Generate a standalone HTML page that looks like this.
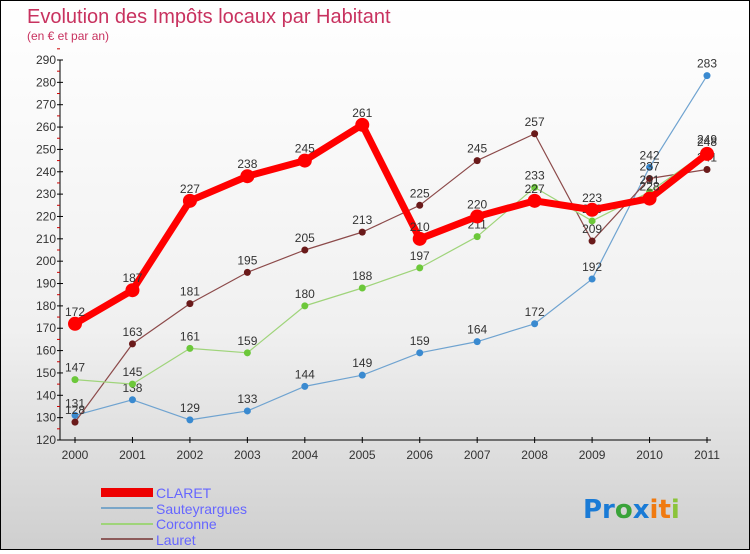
<!DOCTYPE html>
<html><head><meta charset="utf-8"><style>
html,body{margin:0;padding:0}
body{width:750px;height:550px;overflow:hidden;font-family:"Liberation Sans",sans-serif}
#wrap{position:relative;width:748px;height:548px;border:1px solid #000;background:linear-gradient(#fff 0%,#f0f0f0 60%,#cfcfcf 100%)}
</style></head><body>
<div id="wrap">
<svg id="svg" width="748" height="548" xmlns="http://www.w3.org/2000/svg">
<text x="26" y="22" font-size="20" fill="#c8325f">Evolution des Impôts locaux par Habitant</text>
<text x="26" y="39" font-size="12" fill="#c8325f">(en € et par an)</text>
<g id="axes"></g><g id="series"></g>
<g>
<rect x="100" y="487" width="52" height="9" fill="#e00"/>
<text x="155" y="497" font-size="14" fill="#66f">CLARET</text>
<rect x="100" y="506" width="52" height="2" fill="#7aa6c8"/>
<text x="155" y="513" font-size="14" fill="#66f">Sauteyrargues</text>
<rect x="100" y="522" width="52" height="2" fill="#9fd47a"/>
<text x="155" y="528" font-size="14" fill="#66f">Corconne</text>
<rect x="100" y="537" width="52" height="2" fill="#8c5b5b"/>
<text x="155" y="544" font-size="14" fill="#66f">Lauret</text>
</g>
<text x="582" y="517" font-size="26" font-family="DejaVu Sans" font-weight="bold"><tspan fill="#1a7bd6">Pr</tspan><tspan fill="#3aa33a">o</tspan><tspan fill="#1a7bd6">x</tspan><tspan fill="#f07a10">it</tspan><tspan fill="#8bc43a">i</tspan></text>
</svg></div>
<script>
const years=["2000","2001","2002","2003","2004","2005","2006","2007","2008","2009","2010","2011"];
const yTicks=[120,130,140,150,160,170,180,190,200,210,220,230,240,250,260,270,280,290];
const claret=[172,187,227,238,245,261,210,220,227,223,228,248];
const sauteyrargues=[131,138,129,133,144,149,159,164,172,192,242,283];
const corconne=[147,145,161,159,180,188,197,211,233,218,231,249];
const lauret=[128,163,181,195,205,213,225,245,257,209,237,241];
const NS="http://www.w3.org/2000/svg";
const X=i=>74+i*(632/11);
const Y=v=>439-(v-120)*(380/170);
function mk(t,a,p){const e=document.createElementNS(NS,t);for(const k in a)e.setAttribute(k,a[k]);p.appendChild(e);return e;}
const ax=document.getElementById('axes'),se=document.getElementById('series');
let l=mk('line',{x1:59,y1:Y(290),x2:59,y2:439,stroke:'#000'},ax);


l=mk('line',{x1:59,y1:439,x2:710,y2:439,stroke:'#000'},ax);


yTicks.forEach(v=>{
 mk('line',{x1:56,y1:Y(v),x2:62,y2:Y(v),stroke:'#000'},ax);
 mk('line',{x1:56,y1:Y(v+5),x2:59,y2:Y(v+5),stroke:'#c00'},ax);
 const t=mk('text',{x:55,y:Y(v)+4,'font-size':12,fill:'#333','text-anchor':'end'},ax);t.textContent=v;
 
 
});
years.forEach((y,i)=>{
 mk('line',{x1:X(i),y1:436,x2:X(i),y2:442,stroke:'#000'},ax);
 const t=mk('text',{x:X(i),y:458,'font-size':12,fill:'#333','text-anchor':'middle'},ax);t.textContent=y;
 
 
});
function draw(name,d,col,dot,w,r){
 const g=mk('g',{},se);
 
 
 mk('polyline',{points:d.map((v,i)=>X(i)+','+Y(v)).join(' '),fill:'none',stroke:col,'stroke-width':w,'stroke-linejoin':'round'},g);
 d.forEach((v,i)=>{
  const c=mk('circle',{cx:X(i),cy:Y(v),r:r,fill:dot},g);
  
  
  const t=mk('text',{x:X(i),y:Y(v)-8,'font-size':12,fill:'#333','text-anchor':'middle'},g);t.textContent=v;
  
  
 });
}
draw('sauteyrargues',sauteyrargues,'#6fa3d0','#3a8ad0',1.2,3.5);
draw('lauret',lauret,'#8c4a4a','#6a1a1a',1.2,3.5);
draw('corconne',corconne,'#9fd47a','#6cc83a',1.2,3.5);
draw('claret',claret,'#f00','#f00',7,7);
</script>
</body></html>
